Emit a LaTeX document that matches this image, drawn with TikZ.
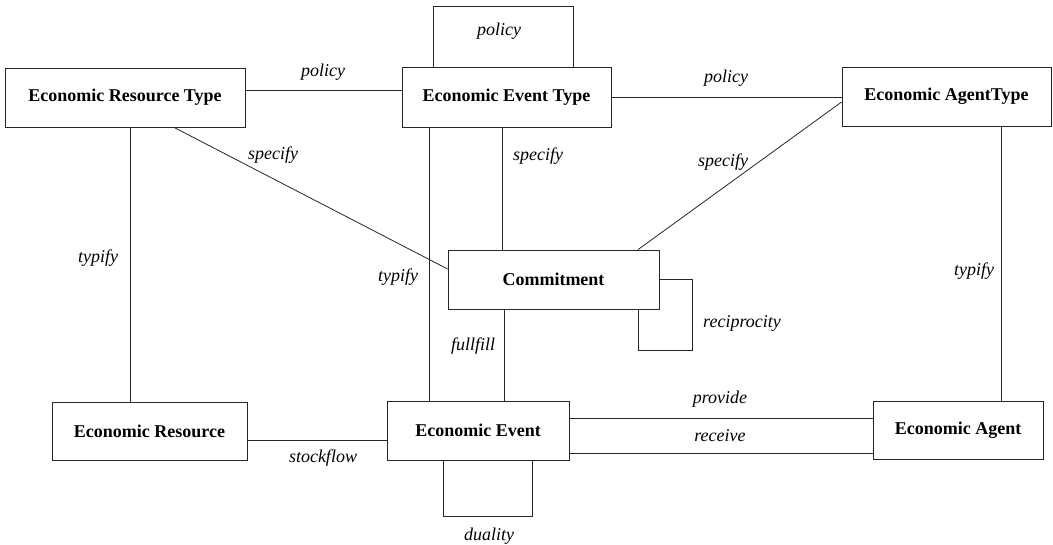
\documentclass[tikz,border=0pt]{standalone}
\usepackage{fontspec}
\setmainfont{Liberation Serif}
\begin{document}
\begin{tikzpicture}[x=1pt,y=-1pt,
  entity/.style={draw=black!85, line width=0.8pt, rectangle, inner sep=0pt,
    font=\fontsize{18}{20}\selectfont\bfseries},
  rel/.style={draw=black!85, line width=0.8pt},
  lbl/.style={inner sep=0pt, font=\fontsize{18}{20}\selectfont\itshape}]
\useasboundingbox (0,0) rectangle (1053,544);

% entities
\node[entity, minimum width=240pt, minimum height=59pt] (ert) at (125,97.5) {Economic Resource Type};
\node[entity, minimum width=209pt, minimum height=60pt] (eet) at (506.5,97) {Economic Event Type};
\node[entity, minimum width=209pt, minimum height=59pt] (eat) at (946.5,96.5) {Economic AgentType};
\node[entity, minimum width=211pt, minimum height=59pt] (com) at (553.5,279.5) {Commitment};
\node[entity, minimum width=195pt, minimum height=58pt] (er) at (149.5,431) {Economic Resource};
\node[entity, minimum width=182pt, minimum height=59pt] (ee) at (478,430.5) {Economic Event};
\node[entity, minimum width=170pt, minimum height=58pt] (ea) at (958,430) {Economic Agent};

% policy links
\draw[rel] ([yshift=7.5pt]ert.east) -- ([yshift=7.5pt]ert.east -| eet.west);
\draw[rel] (eet.east) -- (eet.east -| eat.west);
\draw[rel] ([xshift=-73.5pt]eet.north) -- ++(0,-60) -| ([xshift=66.5pt]eet.north);

% typify links
\draw[rel] ([xshift=5pt]ert.south) -- ([xshift=5pt]ert.south |- er.north);
\draw[rel] ([xshift=-77.5pt]eet.south) -- ([xshift=-77.5pt]eet.south |- ee.north);
\draw[rel] ([xshift=54.5pt]eat.south) -- ([xshift=54.5pt]eat.south |- ea.north);

% specify links
\draw[rel] ([xshift=49pt]ert.south) -- ([yshift=10.5pt]com.west);
\draw[rel] ([xshift=-4.5pt]eet.south) -- ([xshift=-4.5pt]eet.south |- com.north);
\draw[rel] ([yshift=-5.5pt]eat.west) -- ([xshift=84.5pt]com.north);

% reciprocity and fulfillment
\draw[rel] (com.east) -- ++(33,0) -- ++(0,71) -| ([xshift=84.5pt]com.south);
\draw[rel] ([xshift=-49.5pt]com.south) -- ([xshift=-49.5pt]com.south |- ee.north);

% event links
\draw[rel] ([yshift=-9pt]er.east) -- ([yshift=-9pt]er.east -| ee.west);
\draw[rel] ([xshift=-35pt]ee.south) -- ++(0,56) -| ([xshift=54pt]ee.south);
\draw[rel] ([yshift=12.5pt]ee.east) -- ([yshift=12.5pt]ee.east -| ea.west);
\draw[rel] ([yshift=-22.5pt]ee.east) -- ([yshift=-22.5pt]ee.east -| ea.west);

% labels
\node[lbl] (l1) at (323,72) {policy};
\node[lbl] (l2) at (499,31) {policy};
\node[lbl] (l3) at (726,78) {policy};
\node[lbl] (l4) at (273,155) {specify};
\node[lbl] (l5) at (538,156) {specify};
\node[lbl] (l6) at (723,162) {specify};
\node[lbl] (l7) at (98,258) {typify};
\node[lbl] (l8) at (398,277) {typify};
\node[lbl] (l9) at (974,271) {typify};
\node[lbl] (l10) at (473,346) {fullfill};
\node[lbl] (l11) at (742,323) {reciprocity};
\node[lbl] (l12) at (323,458) {stockflow};
\node[lbl] (l13) at (720,399) {provide};
\node[lbl] (l14) at (720,436) {receive};
\node[lbl] (l15) at (489,536) {duality};
\end{tikzpicture}
\end{document}
